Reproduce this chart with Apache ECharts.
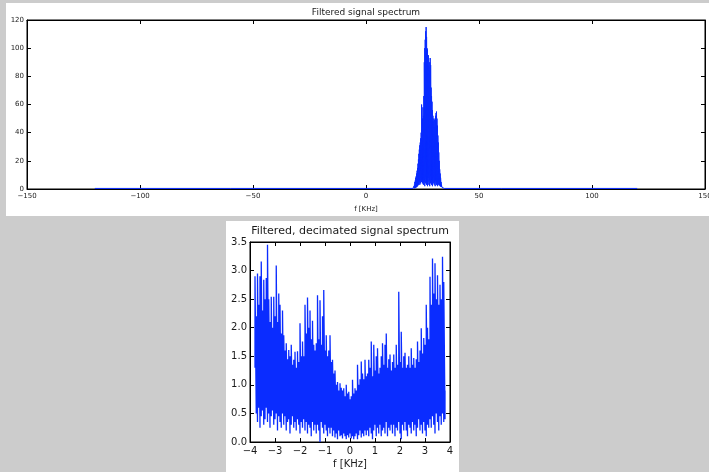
<!DOCTYPE html>
<html>
<head>
<meta charset="utf-8">
<script src="https://cdn.jsdelivr.net/npm/echarts@6/dist/echarts.min.js"></script>
<style>
  html, body { margin: 0; padding: 0; background: #cccccc; }
  #chart { width: 709px; height: 472px; }
</style>
</head>
<body>
<div id="chart"></div>
<script>
// top panel: full band spectrum (kHz), flat floor plus the filtered band
const topFloorFreq = [-120, -60, 0, 20.8]
const topFloorMag = [0.4, 0.4, 0.4, 0.4]
const topTailFreq = [35.2, 60, 120]
const topTailMag = [0.4, 0.4, 0.4]
const topBandStart = 21.0
const topBandStep = 0.2
const topBandHigh = [
  1, 2, 3, 5, 6, 8, 9, 11, 13, 15,
  18, 21, 25, 28, 31, 33, 36, 40, 60, 42,
  50, 58, 52, 66, 90, 100, 106, 112, 115, 108,
  100, 99, 88, 95, 87, 84, 90, 93, 88, 72,
  66, 62, 56, 52, 48, 50, 44, 49, 50, 52,
  54, 55, 50, 45, 38, 33, 26, 20, 14, 11,
  8, 5, 3, 2, 1.5, 1, 0.8, 0.6, 0.5, 0.4,
  0.4
]
const topBandLow = [
  0.3, 0.4, 0.5, 0.6, 0.8, 1, 1.2, 1.5, 1.8, 2,
  2.5, 3, 4, 5, 3, 6, 4, 8, 5, 7,
  4, 6, 3, 8, 5, 2, 7, 4, 9, 3,
  6, 2, 5, 8, 3, 6, 2, 7, 4, 5,
  3, 7, 2, 6, 4, 8, 3, 5, 2, 6,
  4, 3, 6, 2, 5, 3, 4, 2.5, 3, 2,
  2, 1.5, 1.5, 1.2, 1, 0.8, 0.6, 0.5, 0.4, 0.3,
  0.3
]

// bottom panel: decimated spectrum, -3.8 .. 3.8 kHz
const botStart = -3.8
const botStep = 0.05
const botHigh = [
  2.9, 2.2, 2.95, 2.4, 2.9, 3.16, 2.3, 2.84, 2.5, 2.87,
  3.45, 2.5, 2.1, 2.54, 2.0, 2.54, 2.2, 3.09, 2.1, 2.6,
  2.4, 1.9, 2.3, 1.87, 1.6, 1.73, 1.45, 1.61, 1.5, 1.7,
  1.35, 1.44, 1.58, 1.3, 1.59, 1.4, 2.08, 1.5, 1.76, 1.5,
  2.4, 1.9, 2.53, 2.0, 2.3, 1.8, 2.12, 1.7, 1.6, 1.73,
  2.57, 1.8, 2.48, 1.7, 2.2, 2.66, 1.6, 1.87, 1.5, 1.6,
  1.87, 1.4, 1.44, 1.2, 1.25, 1.0, 1.05, 0.9, 1.03, 0.95,
  0.9, 0.94, 0.8, 1.0, 0.85, 0.88, 0.75, 0.8, 1.09, 0.85,
  0.94, 0.9, 1.35, 1.0, 1.1, 1.41, 1.2, 1.1, 1.44, 1.15,
  1.2, 1.44, 1.3, 1.76, 1.15, 1.7, 1.25, 1.5, 1.64, 1.2,
  1.3, 1.5, 1.73, 1.35, 1.7, 1.9, 1.3, 1.45, 1.53, 1.25,
  1.4, 1.53, 1.3, 1.7, 1.35, 2.63, 1.4, 1.93, 1.3, 1.5,
  1.56, 1.3, 1.35, 1.5, 1.3, 1.64, 1.35, 1.47, 1.3, 1.45,
  1.76, 1.4, 1.6, 1.99, 1.55, 1.82, 1.7, 2.4, 2.0, 1.8,
  2.89, 2.4, 3.21, 2.6, 3.13, 2.5, 2.92, 2.4, 2.75, 2.5,
  3.24, 2.8, 0.9
]
const botLow = [
  1.3, 0.5, 0.35, 0.6, 0.25, 0.45, 0.55, 0.3, 0.4, 0.6,
  0.35, 0.5, 0.25, 0.45, 0.55, 0.3, 0.4, 0.5, 0.2, 0.45,
  0.35, 0.25, 0.5, 0.3, 0.45, 0.2, 0.35, 0.4, 0.15, 0.3,
  0.45, 0.25, 0.35, 0.2, 0.4, 0.3, 0.15, 0.35, 0.25, 0.4,
  0.2, 0.35, 0.15, 0.3, 0.25, 0.1, 0.35, 0.2, 0.3, 0.15,
  0.3, 0.2, 0.0, 0.35, 0.25, 0.15, 0.3, 0.2, 0.1, 0.25,
  0.15, 0.25, 0.1, 0.2, 0.08, 0.15, 0.05, 0.2, 0.1, 0.12,
  0.06, 0.15, 0.1, 0.05, 0.12, 0.08, 0.15, 0.06, 0.1, 0.05,
  0.1, 0.15, 0.05, 0.12, 0.2, 0.08, 0.15, 0.1, 0.2, 0.12,
  0.2, 0.1, 0.25, 0.15, 0.05, 0.2, 0.3, 0.1, 0.25, 0.15,
  0.3, 0.1, 0.2, 0.25, 0.15, 0.35, 0.1, 0.25, 0.2, 0.3,
  0.15, 0.3, 0.1, 0.25, 0.2, 0.35, 0.15, 0.05, 0.3, 0.2,
  0.35, 0.2, 0.1, 0.3, 0.25, 0.15, 0.35, 0.2, 0.3, 0.1,
  0.25, 0.4, 0.2, 0.3, 0.15, 0.35, 0.2, 0.1, 0.3, 0.25,
  0.4, 0.25, 0.45, 0.3, 0.15, 0.5, 0.35, 0.2, 0.45, 0.3,
  0.5, 0.35, 0.4
]

const lineColor = '#0a2cff'
const textColor = '#1a1a1a'
const fontFamily = 'DejaVu Sans'

// each sample drawn low then high at the same frequency
const zigzag = (start, step, low, high) => {
  const out = []
  low.forEach((lo, i) => {
    const f = +(start + i * step).toFixed(3)
    out.push([f, lo])
    out.push([f, high[i]])
  })
  return out
}

const topData = []
topFloorFreq.forEach((f, i) => topData.push([f, topFloorMag[i]]))
zigzag(topBandStart, topBandStep, topBandLow, topBandHigh).forEach(p => topData.push(p))
topTailFreq.forEach((f, i) => topData.push([f, topTailMag[i]]))

const botData = zigzag(botStart, botStep, botLow, botHigh)

const minus = v => String(v).replace('-', '\u2212')

const chart = echarts.init(document.getElementById('chart'))

const mkX = (grid, min, max, interval, fs, gap, pos, name) => ({
  type: 'value',
  gridIndex: grid,
  position: pos,
  min, max, interval,
  name: pos === 'bottom' ? name : '',
  nameLocation: 'middle',
  nameGap: gap,
  nameTextStyle: { color: textColor, fontSize: fs, fontFamily },
  axisLine: { show: true, onZero: false, lineStyle: { color: '#000', width: 1 } },
  axisTick: { show: true, inside: true, length: 4, lineStyle: { color: '#000' } },
  axisLabel: {
    show: pos === 'bottom',
    color: textColor, fontSize: fs, fontFamily, margin: 4,
    formatter: minus
  },
  splitLine: { show: false }
})

const mkY = (grid, min, max, interval, fs, pos, fmt) => ({
  type: 'value',
  gridIndex: grid,
  position: pos,
  min, max, interval,
  axisLine: { show: true, onZero: false, lineStyle: { color: '#000', width: 1 } },
  axisTick: { show: true, inside: true, length: 4, lineStyle: { color: '#000' } },
  axisLabel: {
    show: pos === 'left',
    color: textColor, fontSize: fs, fontFamily, margin: 3,
    formatter: fmt
  },
  splitLine: { show: false }
})

const option = {
  animation: false,
  backgroundColor: '#cccccc',
  graphic: [
    { type: 'rect', left: 6, top: 3, shape: { width: 703, height: 213 }, style: { fill: '#fff' }, z: -10 },
    { type: 'rect', left: 226, top: 221, shape: { width: 233, height: 251 }, style: { fill: '#fff' }, z: -10 }
  ],
  title: [
    {
      text: 'Filtered signal spectrum',
      left: 366, top: 8, textAlign: 'center', padding: 0,
      textStyle: { fontSize: 9, fontWeight: 'normal', color: textColor, fontFamily }
    },
    {
      text: 'Filtered, decimated signal spectrum',
      left: 350, top: 226, textAlign: 'center', padding: 0,
      textStyle: { fontSize: 11, fontWeight: 'normal', color: textColor, fontFamily }
    }
  ],
  grid: [
    { left: 27, top: 20, width: 678, height: 169, outerBoundsMode: 'none', containLabel: false,
      show: true, borderColor: '#000', borderWidth: 1, backgroundColor: 'transparent' },
    { left: 250, top: 242, width: 200, height: 200, outerBoundsMode: 'none', containLabel: false,
      show: true, borderColor: '#000', borderWidth: 1, backgroundColor: 'transparent' }
  ],
  xAxis: [
    mkX(0, -150, 150, 50, 7, 17, 'bottom', 'f [KHz]'),
    mkX(0, -150, 150, 50, 7, 17, 'top', ''),
    mkX(1, -4, 4, 1, 10, 17, 'bottom', 'f [KHz]'),
    mkX(1, -4, 4, 1, 10, 17, 'top', '')
  ],
  yAxis: [
    mkY(0, 0, 120, 20, 7, 'left', v => String(v)),
    mkY(0, 0, 120, 20, 7, 'right', v => String(v)),
    mkY(1, 0, 3.5, 0.5, 10, 'left', v => v.toFixed(1)),
    mkY(1, 0, 3.5, 0.5, 10, 'right', v => v.toFixed(1))
  ],
  series: [
    {
      type: 'line',
      xAxisIndex: 0, yAxisIndex: 0,
      data: topData,
      showSymbol: false,
      sampling: 'none',
      lineStyle: { color: lineColor, width: 1 },
      z: 3
    },
    {
      type: 'line',
      xAxisIndex: 2, yAxisIndex: 2,
      data: botData,
      showSymbol: false,
      sampling: 'none',
      lineStyle: { color: lineColor, width: 1.3 },
      z: 3
    }
  ]
}

chart.setOption(option)
</script>
</body>
</html>
